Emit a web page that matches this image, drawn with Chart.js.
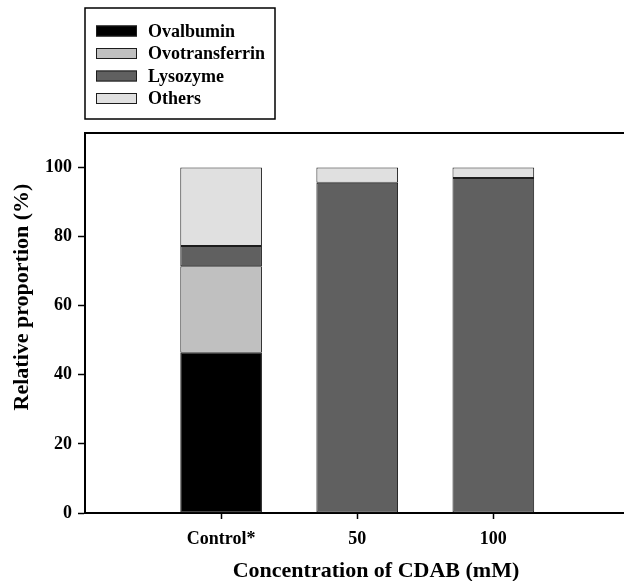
<!DOCTYPE html>
<html>
<head>
<meta charset="utf-8">
<script src="https://cdn.jsdelivr.net/npm/chart.js@4/dist/chart.umd.min.js"></script>
<style>
  html, body { margin: 0; padding: 0; background: #fff; overflow: hidden; }
  #wrap { width: 624px; height: 581px; position: relative; }
</style>
</head>
<body>
<div id="wrap"><canvas id="c" width="624" height="581"></canvas></div>
<script>
// Protein composition (%) at each CDAB concentration
const categories = ['Control*', '50', '100'];
const ovalbumin = [46.4, 0, 0];
const ovotransferrin = [25.0, 0, 0];
const lysozyme = [5.9, 95.6, 97.0];
const others = [22.7, 4.4, 3.0];
const yTickValues = [0, 20, 40, 60, 80, 100];

const seriesNames = ['Ovalbumin', 'Ovotransferrin', 'Lysozyme', 'Others'];
const seriesValues = [ovalbumin, ovotransferrin, lysozyme, others];
const seriesColors = ['#000000', '#c0c0c0', '#606060', '#e0e0e0'];

const serif = '"Liberation Serif", "Times New Roman", serif';
const positions = categories.map((_, i) => i + 1);

const datasets = seriesNames.map((name, k) => ({
  label: name,
  data: seriesValues[k].map((v, i) => ({ x: positions[i], y: v })),
  backgroundColor: seriesColors[k],
  borderColor: '#1c1c1c',
  borderWidth: 1,
  borderSkipped: false,
  barPercentage: 0.6,
  categoryPercentage: 1,
  xAxisID: 'x',
  yAxisID: 'y'
}));

// Boxed legend, one row per series, above the plot
const boxLegend = {
  id: 'boxLegend',
  afterDraw(chart, args, o) {
    const ctx = chart.ctx;
    ctx.save();
    ctx.lineWidth = 1.5;
    ctx.strokeStyle = '#000';
    ctx.strokeRect(o.left, o.top, o.width, o.height);
    ctx.font = 'bold 18px ' + serif;
    ctx.textBaseline = 'middle';
    ctx.textAlign = 'left';
    chart.data.datasets.forEach((ds, i) => {
      const cy = o.firstRow + i * o.rowGap;
      const sy = cy - o.swatchH / 2;
      ctx.fillStyle = ds.backgroundColor;
      ctx.fillRect(o.swatchX, sy, o.swatchW, o.swatchH);
      ctx.lineWidth = 1;
      ctx.strokeStyle = '#1c1c1c';
      ctx.strokeRect(o.swatchX + 0.5, sy + 0.5, o.swatchW - 1, o.swatchH - 1);
      ctx.fillStyle = '#000';
      ctx.fillText(ds.label, o.textX, cy + 1);
    });
    ctx.restore();
  }
};

// Axis titles
const axisTitles = {
  id: 'axisTitles',
  afterDraw(chart, args, o) {
    const ctx = chart.ctx;
    ctx.save();
    ctx.fillStyle = '#000';
    ctx.font = 'bold 22px ' + serif;
    ctx.textAlign = 'center';
    ctx.textBaseline = 'middle';
    ctx.fillText(o.xText, o.xCenter, o.xMiddle);
    ctx.translate(o.yMiddle, o.yCenter);
    ctx.rotate(-Math.PI / 2);
    ctx.fillText(o.yText, 0, 0);
    ctx.restore();
  }
};

const tickFont = { family: serif, size: 18, weight: 'bold' };

new Chart(document.getElementById('c'), {
  type: 'bar',
  data: { datasets },
  plugins: [boxLegend, axisTitles],
  options: {
    responsive: false,
    devicePixelRatio: 1,
    animation: false,
    layout: { padding: { top: 133, right: 0, bottom: 0, left: 0 } },
    plugins: {
      legend: { display: false },
      tooltip: { enabled: false },
      boxLegend: {
        left: 85, top: 8, width: 190, height: 111,
        firstRow: 31, rowGap: 22.5,
        swatchX: 96, swatchW: 41, swatchH: 11,
        textX: 148
      },
      axisTitles: {
        xText: 'Concentration of CDAB (mM)', xCenter: 376, xMiddle: 571,
        yText: 'Relative proportion (%)', yCenter: 297, yMiddle: 22
      }
    },
    scales: {
      x: {
        type: 'linear',
        position: 'bottom',
        min: 0,
        max: 3.96,
        stacked: true,
        offset: false,
        afterBuildTicks: s => { s.ticks = positions.map(v => ({ value: v })); },
        afterFit: s => { s.height = 68; },
        ticks: {
          callback: v => categories[v - 1] ?? '',
          font: tickFont,
          color: '#000',
          padding: 10,
          maxRotation: 0,
          autoSkip: false
        },
        grid: { offset: false, drawOnChartArea: false, drawTicks: true, tickLength: 6, tickColor: '#000', tickWidth: 1.5 },
        border: { display: true, color: '#000', width: 2 }
      },
      xTop: {
        type: 'linear',
        position: 'top',
        min: 0,
        max: 3.96,
        ticks: { display: false },
        grid: { display: false, drawTicks: false },
        border: { display: true, color: '#000', width: 2 },
        afterFit: s => { s.height = 0; }
      },
      y: {
        type: 'linear',
        min: 0,
        max: 110,
        stacked: true,
        afterBuildTicks: s => { s.ticks = yTickValues.map(v => ({ value: v })); },
        afterFit: s => { s.width = 85; },
        ticks: { font: tickFont, color: '#000', padding: 6 },
        grid: { drawOnChartArea: false, drawTicks: true, tickLength: 7, tickColor: '#000', tickWidth: 1.5 },
        border: { display: true, color: '#000', width: 2 }
      }
    }
  }
});
</script>
</body>
</html>
